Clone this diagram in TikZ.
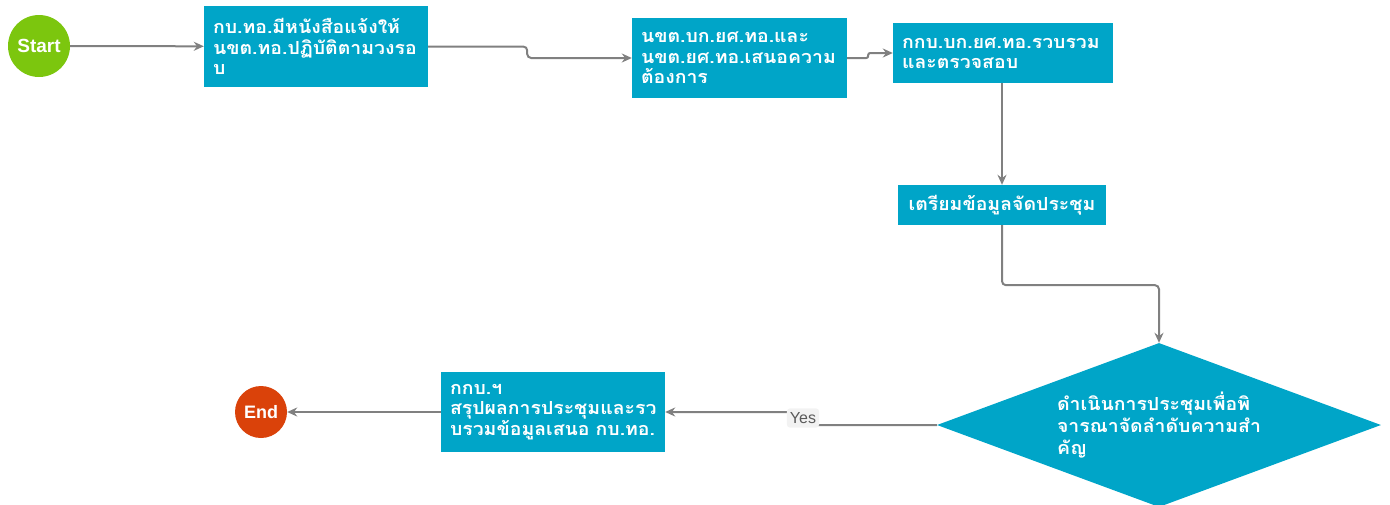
\documentclass[tikz,border=0pt]{standalone}
\usepackage{fontspec}
\usepackage{xcolor}
\usetikzlibrary{shapes.geometric,arrows.meta}
\setmainfont{Liberation Sans}
\newfontfamily\thaifont[Script=Thai, FakeStretch=1.08]{Loma}
\definecolor{boxc}{RGB}{0, 165, 200}
\definecolor{startc}{RGB}{124, 198, 14}
\definecolor{endc}{RGB}{218, 66, 10}
\definecolor{linec}{RGB}{128, 128, 128}
\definecolor{lblbg}{RGB}{242, 242, 242}
\begin{document}
\begin{tikzpicture}[x=1pt, y=-1pt,
    stepbox/.style={draw=none, fill=boxc, text=white, inner xsep=9pt, inner ysep=0pt,
      align=left, font=\thaifont\bfseries\fontsize{18}{20.5}\selectfont},
    term/.style={circle, fill=#1, text=white, inner sep=0pt, font=\bfseries\fontsize{18}{20}\selectfont},
    flow/.style={draw=linec, line width=2pt, rounded corners=4pt, -{Stealth[length=10pt,width=9pt]}}]
      \useasboundingbox (0,0) rectangle (1390,504);
      \node[term=startc, minimum size=62pt, font=\bfseries\fontsize{19}{20}\selectfont] (start) at (39,46) {Start};
      \node[stepbox, text width=206pt, minimum height=81pt] (ask) at (316,46.5) {กบ.ทอ.มีหนังสือแจ้งให้\\นขต.ทอ.ปฏิบัติตามวงรอ\\บ};
      \node[stepbox, text width=197pt, minimum height=80pt] (need) at (739.5,58) {นขต.บก.ยศ.ทอ.และ\\นขต.ยศ.ทอ.เสนอความ\\ต้องการ};
      \node[stepbox, text width=202pt, minimum height=60pt] (check) at (1003,53) {กกบ.บก.ยศ.ทอ.รวบรวม\\และตรวจสอบ};
      \node[stepbox, text width=190pt, minimum height=40pt, align=center] (prep) at (1002,205) {เตรียมข้อมูลจัดประชุม};
      \node[diamond, aspect=2.7, fill=boxc, text=white, inner sep=0pt, minimum width=444pt, minimum height=164pt,
        align=left, font=\thaifont\bfseries\fontsize{18}{22}\selectfont] (meet) at (1159,425) {ดำเนินการประชุมเพื่อพิ\\จารณาจัดลำดับความสำ\\คัญ};
      \node[stepbox, text width=206pt, minimum height=80pt] (sum) at (553,412) {กกบ.ฯ\\สรุปผลการประชุมและรว\\บรวมข้อมูลเสนอ~กบ.ทอ.};
      \node[term=endc, minimum size=52pt] (end) at (261,412) {End};
      % connectors
      \draw[flow] (start) -- (ask);
      \draw[flow] (ask.east) -- ++(99,0) |- (need.west);
      \draw[flow, rounded corners=2pt] (need.east) -- ++(21,0) |- (check.west);
      \draw[flow] (check.south -| prep.north) -- (prep.north);
      \draw[flow] (prep.south) -- ++(0,60) -| (meet.north);
      \coordinate (yesat) at (803,418);
      \draw[flow] (meet.west) -| (yesat) |- (sum.east);
      \node[fill=lblbg, text=linec!70!black, rounded corners=3pt, inner xsep=3pt, inner ysep=4pt,
        font=\fontsize{16}{16}\selectfont] (yes) at (yesat) {Yes};
      \draw[flow] (sum.west) -- (end);
    \end{tikzpicture}
\end{document}
